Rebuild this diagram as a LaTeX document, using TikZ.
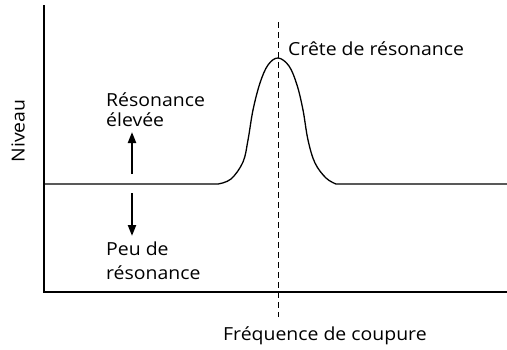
\documentclass[tikz,border=0pt]{standalone}
\usepackage{fontspec}
\setmainfont[FakeStretch=1.08]{Open Sans}
\usetikzlibrary{arrows.meta}
\begin{document}
\begin{tikzpicture}[x=1pt,y=-1pt,
  axis/.style={line width=2.2pt},
  curve/.style={line width=1.3pt},
  lab/.style={font=\fontsize{18}{22}\selectfont, inner sep=0pt},
  updown/.style={line width=2.2pt, -{Triangle[length=11pt,width=8pt]}}]
\useasboundingbox (0,0) rectangle (507,349);
\coordinate (top) at (44,5);
\coordinate (orig) at (44,292);
\coordinate (xend) at (507,292);
\draw[axis] (top) -- (orig) -- (xend);
\draw[curve] (44,184) -- (218,184)
  plot[smooth, tension=0.6] coordinates {(218,184) (231,179) (243,162) (248,140) (253,110) (260,83) (268,65) (278,58) (289,66) (297,85) (303,110) (308,140) (315,163) (326,178) (336,184)}
  -- (507,184);
\coordinate (dtop) at (278,22);
\coordinate (dbot) at (278,317);
\draw[dashed, line width=1pt, dash pattern=on 6pt off 4pt] (dtop) -- (dbot);
\node[lab, anchor=base west] (crete) at (288,55) {Crête de résonance};
\node[lab, anchor=base west] (haut1) at (106,106) {Résonance};
\node[lab, anchor=base west] (haut2) at (106,126) {élevée};
\node[lab, anchor=base west] (bas1) at (106,255) {Peu de};
\node[lab, anchor=base west] (bas2) at (106,279) {résonance};
\node[lab, rotate=90] (niveau) at (18,131) {Niveau};
\node[lab, anchor=base west] (freq) at (223,340) {Fréquence de coupure};
\coordinate (ua) at (132,174);
\coordinate (ub) at (132,132);
\coordinate (da) at (132,193);
\coordinate (db) at (132,236);
\draw[updown] (ua) -- (ub);
\draw[updown] (da) -- (db);
\end{tikzpicture}
\end{document}
